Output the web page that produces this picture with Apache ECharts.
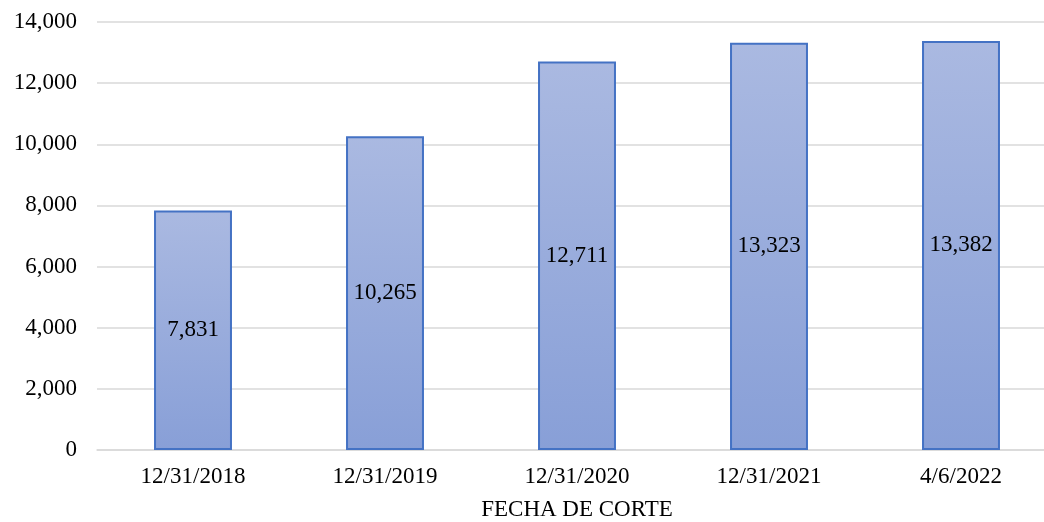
<!DOCTYPE html>
<html lang="es">
<head>
  <meta charset="UTF-8">
  <title>Fecha de corte</title>
  <style>
    * { margin: 0; padding: 0; }
    body { background: #ffffff; }
    #chart { width: 1044px; height: 522px; }
  </style>
</head>
<body>
  <div id="chart"></div>
  <script src="https://cdn.jsdelivr.net/npm/echarts@6/dist/echarts.min.js"></script>
  <script>
  var categories = ['12/31/2018', '12/31/2019', '12/31/2020', '12/31/2021', '4/6/2022'];
  var values = [7831, 10265, 12711, 13323, 13382];
  var yTicks = [0, 2000, 4000, 6000, 8000, 10000, 12000, 14000];

  var serif = '"Liberation Serif", "Times New Roman", serif';

  function fmt(v) {
    return v.toLocaleString('en-US');
  }

  function main () {
    var chart = echarts.init(document.getElementById('chart'));
    var option = {
      animation: false,
      // plot area runs slightly past the right edge, as in the source image
      grid: { left: 97, right: -13, top: 22, bottom: 72, containLabel: false, outerBoundsMode: 'none' },
      xAxis: {
        type: 'category',
        data: categories,
        name: 'FECHA DE CORTE',
        nameLocation: 'middle',
        nameGap: 48,
        nameTextStyle: { fontFamily: serif, fontSize: 23, color: '#000' },
        axisLine: { show: true, lineStyle: { color: '#d9d9d9', width: 1.5 } },
        axisTick: { show: false },
        axisLabel: { fontFamily: serif, fontSize: 23, color: '#000', margin: 15 }
      },
      yAxis: {
        type: 'value',
        min: yTicks[0],
        max: yTicks[yTicks.length - 1],
        interval: 2000,
        axisLine: { show: false },
        axisTick: { show: false },
        splitLine: { lineStyle: { color: '#d9d9d9', width: 1.5 } },
        axisLabel: {
          fontFamily: serif, fontSize: 23, color: '#000', margin: 20,
          formatter: function (v) { return fmt(v); }
        }
      },
      series: [{
        type: 'bar',
        data: values,
        barWidth: '40.6%',
        itemStyle: {
          borderColor: '#4472c4',
          borderWidth: 2,
          color: new echarts.graphic.LinearGradient(0, 0, 0, 1, [
            { offset: 0, color: '#aab9e1' },
            { offset: 1, color: '#889fd7' }
          ])
        },
        label: {
          show: true,
          position: 'inside',
          fontFamily: serif,
          fontSize: 23,
          color: '#000',
          formatter: function (p) { return fmt(p.value); }
        }
      }]
    };
    chart.setOption(option);
  }

  window.addEventListener('load', main);
  </script>
</body>
</html>
